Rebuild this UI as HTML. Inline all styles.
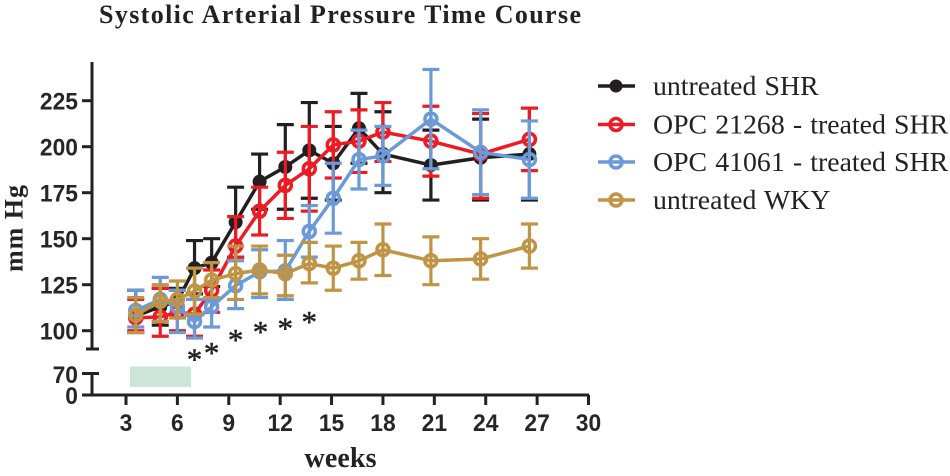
<!DOCTYPE html>
<html>
<head>
<meta charset="utf-8">
<title>Systolic Arterial Pressure Time Course</title>
<style>
html,body{margin:0;padding:0;background:#fff;width:950px;height:476px;overflow:hidden}
svg{display:block}
.tick{font-family:"Liberation Sans",sans-serif;font-weight:bold;font-size:24.5px;fill:#262626}
.serif{font-family:"Liberation Serif",serif;fill:#222}
</style>
</head>
<body>
<svg id="chart" width="950" height="476" viewBox="0 0 950 476" xmlns="http://www.w3.org/2000/svg">
  <rect x="0" y="0" width="950" height="476" fill="#fff"/>
  <text class="serif" x="99" y="23" font-size="26" font-weight="bold" textLength="482" lengthAdjust="spacing">Systolic Arterial Pressure Time Course</text>
  <text class="serif" x="0" y="0" font-size="26" font-weight="bold" text-anchor="middle" transform="translate(22.5,228.5) rotate(-90)" textLength="87" lengthAdjust="spacing">mm Hg</text>
  <text class="serif" x="340.5" y="467" font-size="28" font-weight="bold" text-anchor="middle" textLength="72" lengthAdjust="spacing">weeks</text>
  <rect x="130" y="366.5" width="61" height="20.5" fill="#cbe5d8"/>
  <g id="axes"></g>
  <g id="series"></g>
  <g id="stars"></g>
  <g id="legend"></g>
</svg>
<script>
var weeks = [3.57, 5, 6, 7, 8, 9.4, 10.8, 12.3, 13.7, 15.1, 16.6, 18, 20.8, 23.7, 26.55];

var shrMean  = [108, 113, 116, 134, 137, 159, 181, 189, 198, 191, 210, 196, 190, 194, 196];
var shrUpper = [122, 123, 123, 149, 150, 178, 196, 212, 224, 211, 229, 219, 209, 215, 221];
var shrLower = [99, 103, 107, 120, 124, 140, 166, 166, 172, 171, 191, 175, 171, 171, 171];

var opc21268Mean  = [107, 107.5, 110, 109, 122, 146, 165, 179, 188, 201, 203, 208, 203, 196, 204];
var opc21268Upper = [117, 123, 122, 117, 133, 162, 178, 197, 211, 219, 220, 224, 222, 218, 221];
var opc21268Lower = [100, 97, 100, 97, 110, 140, 152, 161, 165, 183, 186, 192, 184, 172, 187];

var opc41061Mean  = [111, 117, 113, 105, 113, 124.5, 132, 132.5, 154, 172, 193, 195, 215, 197, 193];
var opc41061Upper = [122, 129, 122, 117, 117, 138, 144, 149, 168, 191, 209, 211, 242, 220, 214];
var opc41061Lower = [102, 105, 99, 96, 102, 112, 118, 117, 140, 153, 177, 179, 188, 174, 172];

var wkyMean  = [108.5, 116, 117, 121.5, 127.5, 131, 133, 131, 136.5, 134, 138, 144, 138, 139, 146];
var wkyUpper = [118, 125, 127, 134, 137, 146, 146, 141, 148, 146, 148, 158, 151, 150, 158];
var wkyLower = [99, 105, 107, 109, 118, 117, 120, 119, 126, 122, 128, 130, 125, 128, 134];

var yTickLabels = [100, 125, 150, 175, 200, 225];
var xTickLabels = [3, 6, 9, 12, 15, 18, 21, 24, 27, 30];
var starWeeks = [7, 8, 9.4, 10.85, 12.3, 13.7];
var starLevels = [87, 90.5, 97.7, 102, 104, 107.5];
var legendLabels = ["untreated SHR", "OPC 21268 - treated SHR", "OPC 41061 - treated SHR", "untreated WKY"];

var NS = "http://www.w3.org/2000/svg";
var INK = "#222222";
function xScale(w) { return 126 + (w - 3) * 17.13; }
function yScale(v) { return 330.7 - (v - 100) * 1.84; }

function mk(parent, tag, attrs) {
  var el = document.createElementNS(NS, tag);
  for (var k in attrs) { el.setAttribute(k, attrs[k]); }
  parent.appendChild(el);
  return el;
}
function tickText(parent, value, x, y, anchor) {
  var s = String(value);
  return mk(parent, "text", {x: x, y: y, "text-anchor": anchor, "class": "tick", textLength: s.length * 12.7, lengthAdjust: "spacingAndGlyphs"});
}

var axes = document.getElementById("axes");
var upperAxis = mk(axes, "line", {x1: 92, x2: 92, y1: 62, y2: 350, stroke: INK, "stroke-width": 3});


var upperCap = mk(axes, "line", {x1: 86, x2: 99, y1: 349, y2: 349, stroke: INK, "stroke-width": 3});


var lowerAxis = mk(axes, "line", {x1: 92, x2: 92, y1: 372, y2: 395, stroke: INK, "stroke-width": 3});


var lowerCap = mk(axes, "line", {x1: 82, x2: 99, y1: 373.5, y2: 373.5, stroke: INK, "stroke-width": 3});


var xAxis = mk(axes, "line", {x1: 82, x2: 589, y1: 395, y2: 395, stroke: INK, "stroke-width": 3});



var label70 = tickText(axes, 70, 78, 383, "end");
label70.textContent = "70";


var label0 = tickText(axes, 0, 78, 404, "end");
label0.textContent = "0";



yTickLabels.forEach(function (v) {
  var t = mk(axes, "line", {x1: 82, x2: 92, y1: yScale(v), y2: yScale(v), stroke: INK, "stroke-width": 3});
  
  
  var l = tickText(axes, v, 78, yScale(v) + 8.8, "end");
  l.textContent = v;
  
  
});

xTickLabels.forEach(function (w) {
  var t = mk(axes, "line", {x1: xScale(w), x2: xScale(w), y1: 395, y2: 405, stroke: INK, "stroke-width": 3});
  
  
  var l = tickText(axes, w, xScale(w), 431, "middle");
  l.textContent = w;
  
  
});

function drawSeries(name, color, filled, means, uppers, lowers) {
  var root = document.getElementById("series");
  var g = mk(root, "g", {});
  
  
  weeks.forEach(function (w, i) {
    var x = xScale(w);
    var bar = mk(g, "path", {
      d: "M" + (x - 8.5) + " " + yScale(uppers[i]) + "H" + (x + 8.5) +
         "M" + x + " " + yScale(uppers[i]) + "V" + yScale(lowers[i]) +
         "M" + (x - 8.5) + " " + yScale(lowers[i]) + "H" + (x + 8.5),
      fill: "none", stroke: color, "stroke-width": 3.2
    });
    
    
  });
  var pts = weeks.map(function (w, i) { return xScale(w) + "," + yScale(means[i]); }).join(" ");
  var line = mk(g, "polyline", {points: pts, fill: "none", stroke: color, "stroke-width": 3.5, "stroke-linejoin": "round"});
  
  
  weeks.forEach(function (w, i) {
    var c = mk(g, "circle", filled
      ? {cx: xScale(w), cy: yScale(means[i]), r: 7, fill: color}
      : {cx: xScale(w), cy: yScale(means[i]), r: 6, fill: "none", stroke: color, "stroke-width": 3.5});
    
    
  });
}

drawSeries("untreated-shr", "#231f20", true, shrMean, shrUpper, shrLower);
drawSeries("opc-21268", "#ed1c24", false, opc21268Mean, opc21268Upper, opc21268Lower);
drawSeries("opc-41061", "#6a9bd8", false, opc41061Mean, opc41061Upper, opc41061Lower);
drawSeries("untreated-wky", "#bf9445", false, wkyMean, wkyUpper, wkyLower);

var starsGroup = document.getElementById("stars");
starWeeks.forEach(function (w, i) {
  var s = mk(starsGroup, "text", {x: xScale(w), y: yScale(starLevels[i]) + 15, "text-anchor": "middle", "class": "serif", "font-size": 31, stroke: "#222", "stroke-width": 0.5});
  s.textContent = "*";
  
  
});

var legendColors = ["#231f20", "#ed1c24", "#6a9bd8", "#bf9445"];
var legendRows = [86, 124.5, 162, 200];
var legendGroup = document.getElementById("legend");
legendLabels.forEach(function (label, i) {
  var row = mk(legendGroup, "g", {});
  
  
  var y = legendRows[i];
  var ln = mk(row, "line", {x1: 598, x2: 635, y1: y, y2: y, stroke: legendColors[i], "stroke-width": 3.5});
  
  
  var mark = mk(row, "circle", i === 0
    ? {cx: 616, cy: y, r: 6.5, fill: legendColors[i]}
    : {cx: 616, cy: y, r: 6, fill: "none", stroke: legendColors[i], "stroke-width": 3.5});
  
  
  var tx = mk(row, "text", {x: 653, y: y + 9, "class": "serif", "font-size": 27.8, "word-spacing": 1.2});
  tx.textContent = label;
  
  
});
</script>
</body>
</html>
